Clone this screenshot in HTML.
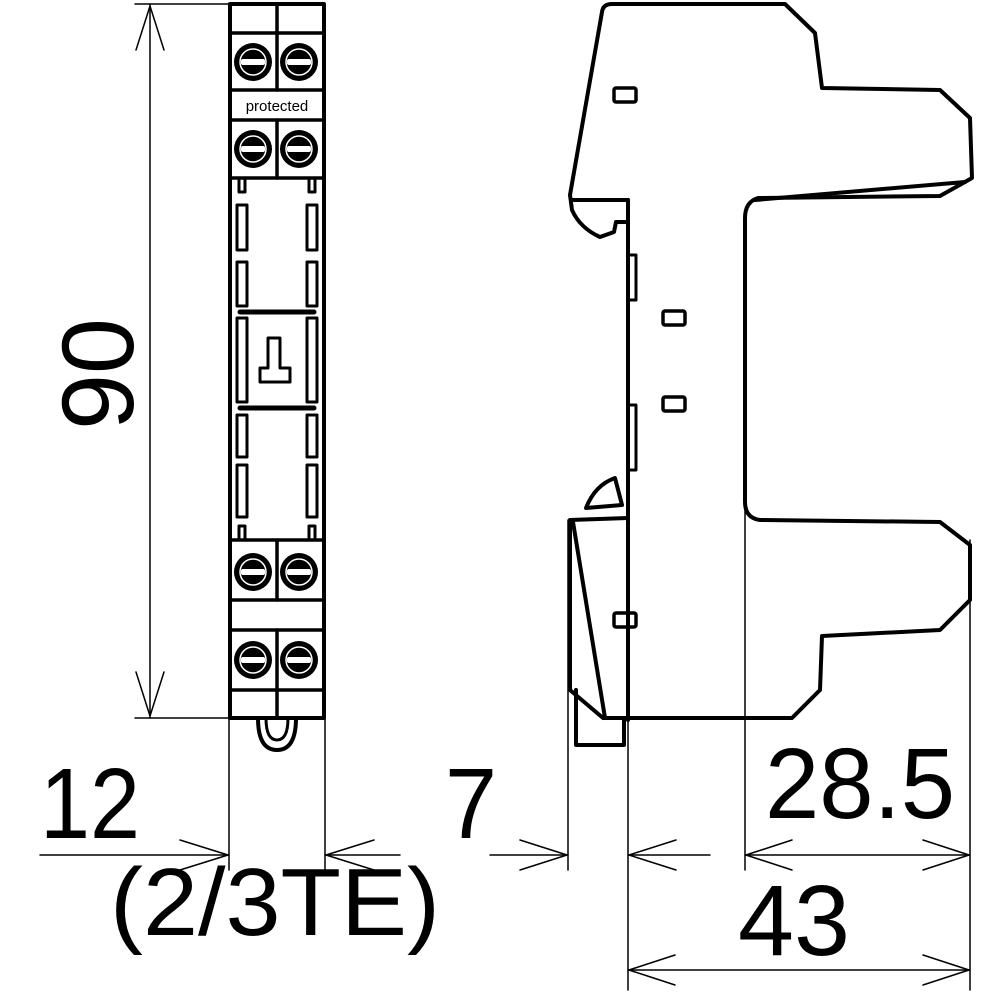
<!DOCTYPE html>
<html><head><style>html,body{margin:0;padding:0;background:#fff}svg{display:block}</style></head>
<body>
<svg width="1000" height="1000" viewBox="0 0 1000 1000" xmlns="http://www.w3.org/2000/svg" font-family="Liberation Sans, sans-serif">
<defs>
<g id="scr">
<circle r="19" fill="#000"/>
<circle r="13" fill="none" stroke="#fff" stroke-width="1.5"/>
<rect x="-12" y="-3" width="24" height="6" fill="#fff" rx="2"/>
</g>
</defs>
<g stroke="#000" fill="none" stroke-linecap="round" stroke-linejoin="round">
<rect x="230" y="4" width="94" height="714" stroke-width="4"/>
<g stroke-width="3.5">
<line x1="230" y1="33" x2="324" y2="33"/>
<line x1="230" y1="90" x2="324" y2="90"/>
<line x1="230" y1="120" x2="324" y2="120"/>
<line x1="230" y1="178" x2="324" y2="178"/>
<line x1="230" y1="540" x2="324" y2="540"/>
<line x1="230" y1="600" x2="324" y2="600"/>
<line x1="230" y1="630" x2="324" y2="630"/>
<line x1="230" y1="690" x2="324" y2="690"/>
<line x1="277" y1="4" x2="277" y2="90"/>
<line x1="277" y1="120" x2="277" y2="178"/>
<line x1="277" y1="540" x2="277" y2="600"/>
<line x1="277" y1="630" x2="277" y2="718"/>
<line x1="240" y1="312" x2="314" y2="312" stroke-width="5"/>
<line x1="240" y1="408" x2="314" y2="408" stroke-width="5"/>
</g>
<g stroke-width="3">
<rect x="237" y="205" width="10" height="45"/><rect x="307" y="205" width="10" height="45"/>
<rect x="237" y="262" width="10" height="44"/><rect x="307" y="262" width="10" height="44"/>
<rect x="237" y="318" width="10" height="84"/><rect x="307" y="318" width="10" height="84"/>
<rect x="237" y="415" width="10" height="42"/><rect x="307" y="415" width="10" height="42"/>
<rect x="237" y="465" width="10" height="52"/><rect x="307" y="465" width="10" height="52"/>
<path d="M239 180 V192 H245 V180 M309 180 V192 H315 V180"/>
<path d="M239 538 V526 H245 V538 M309 538 V526 H315 V538"/>
<path d="M268 338 V368 H260 V382 H290 V368 H280 V338 Z"/>
<path d="M258 718 Q258 750 277 750 Q296 750 296 718" stroke-width="4"/>
<path d="M266 718 Q266 740 277 740 Q288 740 288 718"/>
</g>
<g stroke-width="1.5">
<line x1="135" y1="4" x2="230" y2="4"/><line x1="135" y1="718" x2="230" y2="718"/>
<line x1="150" y1="4" x2="150" y2="718"/>
<path d="M136 50 L150 6 L164 50 M136 672 L150 716 L164 672"/>
<line x1="229" y1="718" x2="229" y2="870"/><line x1="325" y1="718" x2="325" y2="870"/>
<line x1="40" y1="855" x2="229" y2="855"/><line x1="325" y1="855" x2="400" y2="855"/>
<path d="M180 840 L228 855 L180 870 M374 840 L326 855 L374 870"/>
<line x1="568" y1="520" x2="568" y2="870"/><line x1="628" y1="720" x2="628" y2="990"/>
<line x1="745" y1="500" x2="745" y2="870"/><line x1="970" y1="540" x2="970" y2="990"/>
<line x1="490" y1="855" x2="568" y2="855"/><line x1="628" y1="855" x2="710" y2="855"/>
<path d="M520 840 L567 855 L520 870 M676 840 L629 855 L676 870"/>
<line x1="745" y1="855" x2="970" y2="855"/>
<path d="M792 840 L746 855 L792 870 M923 840 L969 855 L923 870"/>
<line x1="628" y1="970" x2="970" y2="970"/>
<path d="M675 955 L629 970 L675 985 M923 955 L969 970 L923 985"/>
</g>
<g stroke-width="4">
<path d="M612 4 L785 4 L815 33 L822 88 L940 90 L970 118 L972 178 L940 196 L758 198 Q745 202 745 218 L745 502 Q745 518 760 520 L940 522 L970 545 L970 600 L940 630 L822 636 L820 690 L792 718 L605 718"/>
<path d="M612 4 Q603 4 602 12 L570 195 L572 210 Q580 228 600 237 L614 232 L616 222 L628 222 L628 200 L572 200"/>
<path d="M755 200 L965 182"/>
<line x1="628" y1="200" x2="628" y2="518"/>
<rect x="628" y="255" width="8" height="45" stroke-width="3"/>
<rect x="628" y="405" width="8" height="65" stroke-width="3"/>
<rect x="614" y="88" width="22" height="14" rx="2" stroke-width="3.5"/>
<rect x="663" y="311" width="22" height="14" rx="2" stroke-width="3.5"/>
<rect x="663" y="397" width="22" height="14" rx="2" stroke-width="3.5"/>
<rect x="614" y="613" width="22" height="14" rx="2" stroke-width="3.5"/>
<path d="M628 518 L570 520 L570 690 L603 718"/>
<path d="M573 522 L605 718"/>
<path d="M586 508 Q595 485 615 478 L622 505 Z"/>
<path d="M576 690 L576 745 L624 745 L624 720"/>
<line x1="628" y1="505" x2="628" y2="720"/>
</g>
</g>
<g fill="#000">
<use href="#scr" x="253" y="62"/><use href="#scr" x="299" y="62"/>
<use href="#scr" x="253" y="149"/><use href="#scr" x="299" y="149"/>
<use href="#scr" x="253" y="572"/><use href="#scr" x="299" y="572"/>
<use href="#scr" x="253" y="660"/><use href="#scr" x="299" y="660"/>
<text x="277" y="111" font-size="15" text-anchor="middle">protected</text>
<text x="320" y="0" font-size="102" transform="translate(133 0) rotate(-90) translate(-750 0)" textLength="112" lengthAdjust="spacingAndGlyphs">90</text>
<text x="40" y="838" font-size="100" textLength="100" lengthAdjust="spacingAndGlyphs">12</text>
<text x="110" y="935" font-size="96" textLength="330" lengthAdjust="spacingAndGlyphs">(2/3TE)</text>
<text x="445" y="838" font-size="100" textLength="52" lengthAdjust="spacingAndGlyphs">7</text>
<text x="765" y="818" font-size="100" textLength="190" lengthAdjust="spacingAndGlyphs">28.5</text>
<text x="738" y="955" font-size="100" textLength="112" lengthAdjust="spacingAndGlyphs">43</text>
</g>
</svg>
</body></html>
